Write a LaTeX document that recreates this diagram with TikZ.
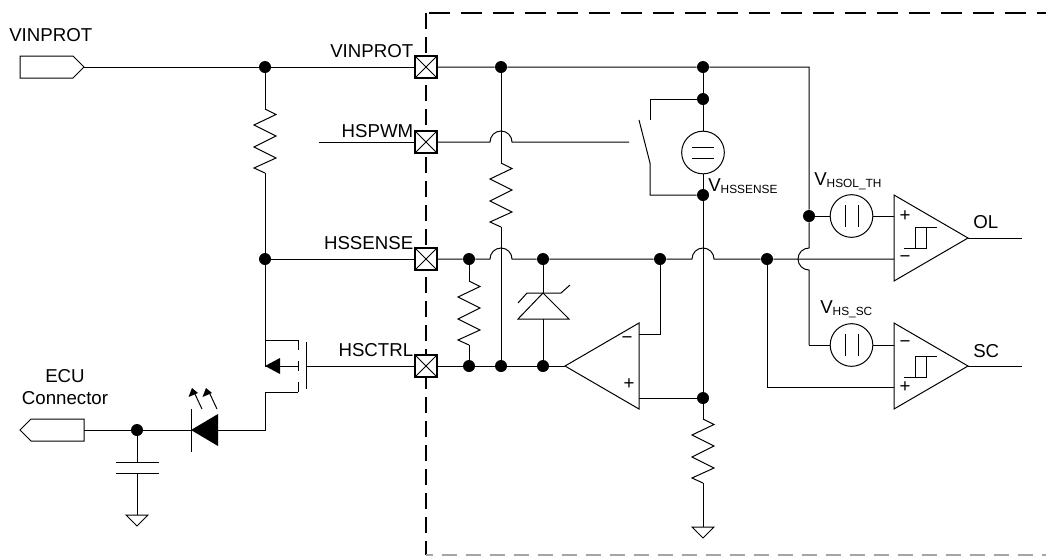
\documentclass[tikz,border=0pt]{standalone}
\usepackage{fontspec}
\setmainfont{Liberation Sans}
\usetikzlibrary{calc}
\newcommand{\lblfont}{\fontsize{14}{16}\selectfont}
\newcommand{\subtxt}[1]{\raisebox{-1.6pt}{\fontsize{8.9}{10}\selectfont #1}}
\tikzset{
  x=0.75pt,y=-0.75pt,
  wire/.style={line width=0.75pt,line join=miter},
  dot/.style={circle,fill=black,draw=none,minimum size=9pt,inner sep=0pt},
  portsq/.style={rectangle,draw,line width=0.8pt,fill=white,minimum size=16.5pt,inner sep=0pt,
    path picture={\draw[line width=0.6pt] (path picture bounding box.north west)--(path picture bounding box.south east);
      \draw[line width=0.6pt] (path picture bounding box.south west)--(path picture bounding box.north east);}},
  srcnode/.style={circle,draw,line width=0.75pt,minimum size=32pt,inner sep=0pt},
  lbl/.style={anchor=base west,inner sep=0pt,font=\lblfont},
  lblr/.style={anchor=base east,inner sep=0pt,font=\lblfont},
  lblc/.style={anchor=base,inner sep=0pt,font=\lblfont},
  sign/.style={inner sep=0pt,font=\lblfont},
  resv/.pic={
    \coordinate (-top) at (0,0);
    \coordinate (-bot) at (0,64);
    \draw[wire] (0,0)--(11,5.5)--(-11,16)--(11,27)--(-11,38)--(11,49)--(-11,59)--(0,64);
  },
  gnd/.pic={
    \coordinate (-top) at (0,0);
    \draw[wire] (-11,0)--(11,0)--(0,11)--cycle;
  },
  comp/.pic={
    \coordinate (-tip) at (74,0);
    \draw[wire,line join=miter] (0,-43)--(74,0)--(0,43)--cycle;
  },
  hyst/.pic={
    \draw[wire] (-11,0)--(11,0)--(11,-21) (0,0)--(0,-21) -- (22,-21);
  },
}
\begin{document}
\begin{tikzpicture}
\useasboundingbox (0,0) rectangle (1046,558);

% package boundary
\coordinate (bTL) at (426,13);
\coordinate (bTS) at (429,13);
\coordinate (bTR) at (1046,13);
\coordinate (bBL) at (426,555);
\coordinate (bBR) at (1046,555);
\draw[line width=1.1pt,dash pattern=on 15.75pt off 8.25pt] (bTS)--(bTR);
\draw[line width=1.1pt,dash pattern=on 12pt off 6pt] (bTL)--(bBL);
\draw[line width=0.9pt,draw=black!35,dash pattern=on 11.25pt off 6.75pt,dash phase=6pt] (bBL)--(bBR);

% pads
\node[portsq] (pV) at (426,67) {};
\node[portsq] (pW) at (426,142) {};
\node[portsq] (pS) at (426,259) {};
\node[portsq] (pC) at (426,366) {};

% junctions
\node[dot] (jV1) at (265,67) {};
\node[dot] (jV2) at (501,67) {};
\node[dot] (jV3) at (703,67) {};
\node[dot] (jSw1) at (703,99) {};
\node[dot] (jSw2) at (703,195) {};
\node[dot] (jSrc) at (703,398) {};
\node[dot] (jTh) at (809,216) {};
\node[dot] (jS0) at (265,259) {};
\node[dot] (jS1) at (469,259) {};
\node[dot] (jS2) at (543,259) {};
\node[dot] (jS3) at (660,259) {};
\node[dot] (jS4) at (767,259) {};
\node[dot] (jC1) at (469,366) {};
\node[dot] (jC2) at (501,366) {};
\node[dot] (jC3) at (543,366) {};
\node[dot] (jE) at (137,430) {};

% input port VINPROT
\coordinate (pin1) at (84,67);
\draw[wire] (20,56)--(73,56)--(pin1)--(73,78)--(20,78)--cycle;
\draw[wire] (pin1)--(jV1)--(pV);
% output to ECU
\coordinate (pin2) at (84,430);
\draw[wire] (pin2)--(84,419)--(31,419)--(20,430)--(31,441)--(84,441)--cycle;

% resistors
\pic (r1) at (265,109) {resv};
\pic (r2) at (501,163) {resv};
\pic (r3) at (469,281) {resv};
\pic (r4) at (703,419) {resv};
\draw[wire] (jV1)--(r1-top) (r1-bot)--(jS0);
\draw[wire] (jV2)--(r2-top) (r2-bot)--(jC2);
\draw[wire] (jS1)--(r3-top) (r3-bot)--(jC1);
\draw[wire] (jSrc)--(r4-top);

% top rail
\coordinate (railC) at (809,67);
\coordinate (hopV) at (809,248);
\coordinate (rail2) at (809,345);
\draw[wire] (pV)--(jV2)--(jV3)--(railC)--(jTh)--(hopV)
  arc[start angle=270,end angle=90,radius=11]--(rail2);

% HSPWM line with hop
\coordinate (wIn) at (319,142);
\coordinate (hopW) at (490,142);
\coordinate (swIn) at (629,142);
\draw[wire] (wIn)--(pW);
\draw[wire] (pW)--(hopW) arc[start angle=180,end angle=360,radius=11]--(swIn);

% switch
\coordinate (swA) at (650,120);
\coordinate (swArm) at (639,120);
\coordinate (swB) at (650,163);
\draw[wire] (jSw1)--(650,99)--(swA);
\draw[wire] (jSw2)--(650,195)--(swB)--(swArm);

% HSSENSE source
\node[srcnode] (vs) at (703,152.5) {};
\draw[wire] ([shift={(-11,-5.5)}]vs.center)--([shift={(11,-5.5)}]vs.center);
\draw[wire] ([shift={(-11,5.5)}]vs.center)--([shift={(11,5.5)}]vs.center);
\draw[wire] (jV3)--(jSw1)--(vs.north);
\draw[wire] (vs.south)--(jSw2)--(jSrc);

% HSSENSE line
\coordinate (hopS1) at (490,259);
\coordinate (hopS2) at (692,259);
\coordinate (cmpM) at (894,259);
\draw[wire] (jS0)--(pS);
\draw[wire] (pS)--(jS1)--(hopS1) arc[start angle=180,end angle=360,radius=11]--(jS2)--(jS3)--(hopS2)
  arc[start angle=180,end angle=360,radius=11]--(jS4)--(cmpM);

% HSCTRL line and MOSFET
\coordinate (gate) at (306,366);
\draw[wire] (gate)--(pC);
\draw[wire] (pC)--(jC1)--(jC2)--(jC3);
\draw[wire] (306,342)--(306,389);
\draw[wire] (298,340)--(298,350) (298,361)--(298,371) (298,382)--(298,392);
\coordinate (mS) at (265,340);
\coordinate (mD) at (265,392);
\coordinate (mT) at (265,366);
\draw[wire] (jS0)--(mT);
\draw[wire] (mS)--(298,340);
\draw[wire] (mT)--(298,366);
\fill (mT)--(280,358)--(280,374)--cycle;
\coordinate (ledA) at (218,430);
\coordinate (ledK) at (191,430);
\draw[wire] (298,392)--(mD)--(265,430)--(ledA);
\fill (ledK)--(218,414)--(218,446)--cycle;
\draw[wire] (191,409)--(191,452);
\draw[wire] (pin2)--(jE)--(ledK);
\draw[line width=0.75pt] (202,409)--(194,392);
\draw[line width=0.75pt] (217,409)--(209,392);
\fill (192,388)--(188.5,397)--(198,393)--cycle;
\fill (206,388)--(202.5,397)--(212,393)--cycle;

% capacitor and grounds
\coordinate (c1) at (137,462);
\coordinate (c2) at (137,473);
\draw[wire] (jE)--(c1);
\draw[wire] (116,462)--(159,462);
\draw[wire] (116,473)--(159,473);
\pic (g1) at (137,515) {gnd};
\draw[wire] (c2)--(g1-top);
\pic (g2) at (703,527) {gnd};
\draw[wire] (r4-bot)--(g2-top);

% zener
\coordinate (zA) at (543,293);
\draw[wire] (jS2)--(zA);
\draw[wire] (zA)--(518,319)--(569,319)--cycle;
\draw[wire] (518,303)--(527,293)--(561,293)--(570,285);
\coordinate (zB) at (543,319);
\draw[wire] (zB)--(jC3);

% error amp
\coordinate (oTip) at (565,366);
\draw[wire] (oTip)--(639,323)--(639,409)--cycle;
\draw[wire] (jC3)--(oTip);
\coordinate (oMin) at (639,334);
\coordinate (oPlus) at (639,398);
\draw[wire] (oMin)--(660,334)--(jS3);
\draw[wire] (oPlus)--(jSrc);
\node[sign] (o1) at (627,340) {−};
\node[sign] (o2) at (629,384) {+};

% comparators
\pic (cA) at (894,238) {comp};
\pic (cB) at (894,366) {comp};
\pic at (915,248) {hyst};
\pic at (915,377) {hyst};
\coordinate (outA) at (1022,238);
\coordinate (outB) at (1022,366);
\draw[wire] (cA-tip)--(outA);
\draw[wire] (cB-tip)--(outB);
\node[sign] (s1) at (905,216) {+};
\node[sign] (s2) at (905,259) {−};
\node[sign] (s3) at (905,344) {−};
\node[sign] (s4) at (905,387) {+};

% threshold sources
\node[srcnode] (vt) at (851.5,216) {};
\draw[wire] ([shift={(-6.5,-11)}]vt.center)--([shift={(-6.5,11)}]vt.center);
\draw[wire] ([shift={(6.5,-11)}]vt.center)--([shift={(6.5,11)}]vt.center);
\node[srcnode] (vc) at (851.5,345) {};
\draw[wire] ([shift={(-6.5,-11)}]vc.center)--([shift={(-6.5,11)}]vc.center);
\draw[wire] ([shift={(6.5,-11)}]vc.center)--([shift={(6.5,11)}]vc.center);
\coordinate (cAp) at (894,216);
\coordinate (cBm) at (894,345);
\coordinate (cBp) at (894,387);
\draw[wire] (jTh)--(vt);
\draw[wire] (vt)--(cAp);
\draw[wire] (rail2)--(vc);
\draw[wire] (vc)--(cBm);
\draw[wire] (jS4)--(767,387)--(cBp);

% labels
\node[lbl] (t1) at (9,41) {VINPROT};
\node[lblr] (t2) at (413.5,57) {VINPROT};
\node[lblr] (t3) at (413.5,137) {HSPWM};
\node[lblr] (t4) at (413.5,249) {HSSENSE};
\node[lblr] (t5) at (413.5,356) {HSCTRL};
\node[lblc] (t6) at (65,382) {ECU};
\node[lblc] (t7) at (65,404) {Connector};
\node[lbl] (t8) at (708,191) {V\subtxt{HSSENSE}};
\node[lbl] (t9) at (814,185) {V\subtxt{HSOL\_TH}};
\node[lbl] (t10) at (820,313) {V\subtxt{HS\_SC}};
\node[lbl] (t11) at (973,228) {OL};
\node[lbl] (t12) at (973,357) {SC};
\end{tikzpicture}
\end{document}
